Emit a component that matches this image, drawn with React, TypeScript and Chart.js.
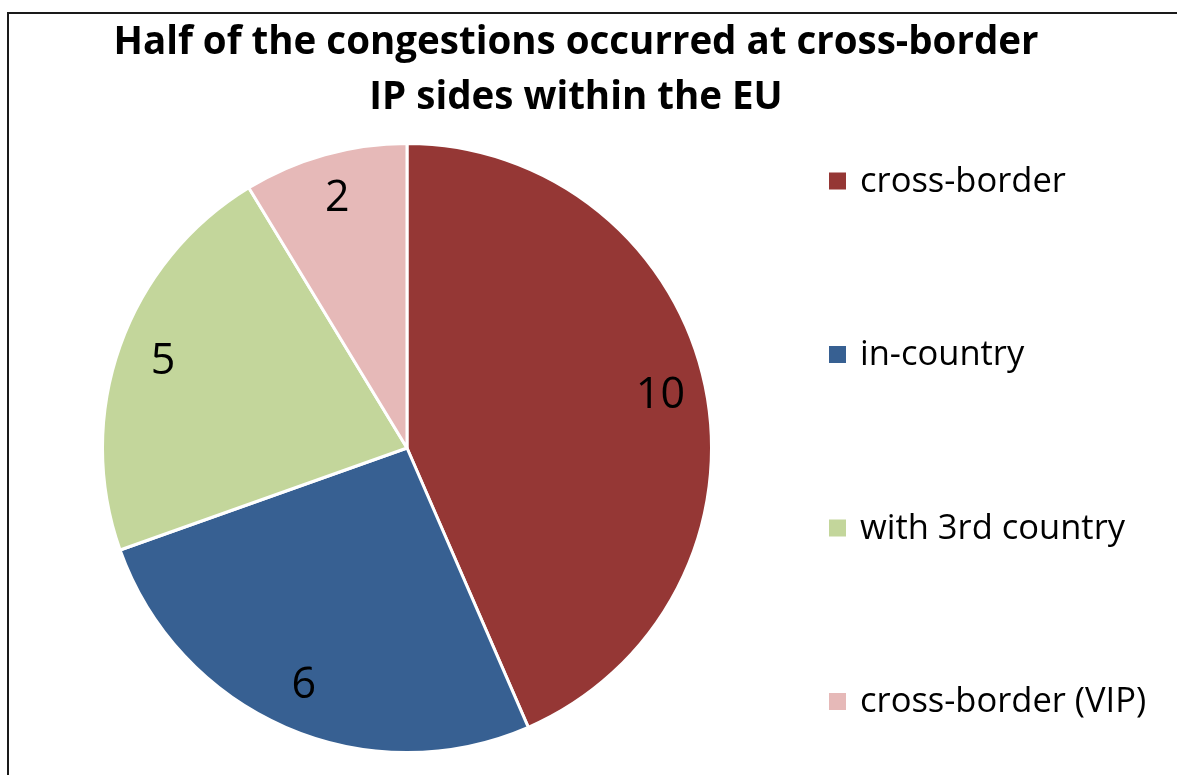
import React, { useEffect, useRef } from "react";
import { Chart, registerables } from "chart.js";

Chart.register(...registerables);

const categories = ["cross-border", "in-country", "with 3rd country", "cross-border (VIP)"];
const values = [10, 6, 5, 2];
const colors = ["#953735", "#376092", "#C3D69B", "#E6B9B8"];
const titleLines = ["Half of the congestions occurred at cross-border", "IP sides within the EU"];

const FONT = "'Open Sans', 'Noto Sans', sans-serif";

const decorPlugin = {
  id: "decor",
  afterDraw(chart: any) {
    const ctx = chart.ctx as CanvasRenderingContext2D;
    ctx.save();
    // frame
    ctx.strokeStyle = "#1a1a1a";
    ctx.lineWidth = 2;
    ctx.strokeRect(8, 13, 1400, 1000);

    // title
    ctx.fillStyle = "#000";
    ctx.textAlign = "center";
    ctx.textBaseline = "middle";
    ctx.font = `bold 38.5px ${FONT}`;
    ctx.fillText(titleLines[0], 576, 43);
    ctx.fillText(titleLines[1], 576, 98);

    // data labels
    const meta = chart.getDatasetMeta(0);
    ctx.font = `43px ${FONT}`;
    meta.data.forEach((arc: any, i: number) => {
      const { x, y, startAngle, endAngle, outerRadius } = arc.getProps(
        ["x", "y", "startAngle", "endAngle", "outerRadius"],
        true
      );
      const mid = (startAngle + endAngle) / 2;
      const r = outerRadius * 0.85;
      ctx.fillText(String(chart.data.datasets[0].data[i]), x + Math.cos(mid) * r, y + Math.sin(mid) * r);
    });

    // legend
    ctx.textAlign = "left";
    ctx.font = `34.5px ${FONT}`;
    const lx = 829;
    const ly0 = 181;
    const step = 173.5;
    (chart.data.labels as string[]).forEach((lab, i) => {
      const cy = ly0 + i * step;
      ctx.fillStyle = colors[i];
      ctx.fillRect(lx, cy - 8.5, 17, 17);
      ctx.fillStyle = "#000";
      ctx.fillText(lab, 860, cy + 1);
    });
    ctx.restore();
  },
};

export default function App() {
  const ref = useRef<HTMLCanvasElement | null>(null);
  useEffect(() => {
    if (!ref.current) return;
    const chart = new Chart(ref.current, {
      type: "pie",
      data: {
        labels: categories,
        datasets: [
          {
            data: values,
            backgroundColor: colors,
            borderColor: "#ffffff",
            borderWidth: 3,
          },
        ],
      },
      options: {
        responsive: false,
        animation: false,
        layout: { padding: { left: 101, top: 141, right: 464, bottom: 20 } },
        plugins: {
          legend: { display: false },
          title: { display: false },
          tooltip: { enabled: false },
        },
      },
      plugins: [decorPlugin],
    });
    return () => chart.destroy();
  }, []);
  return (
    <div style={{ position: "fixed", left: 0, top: 0, width: 1177, height: 775, overflow: "hidden", background: "#fff" }}>
      <canvas ref={ref} width={1177} height={775} style={{ display: "block" }} />
    </div>
  );
}
